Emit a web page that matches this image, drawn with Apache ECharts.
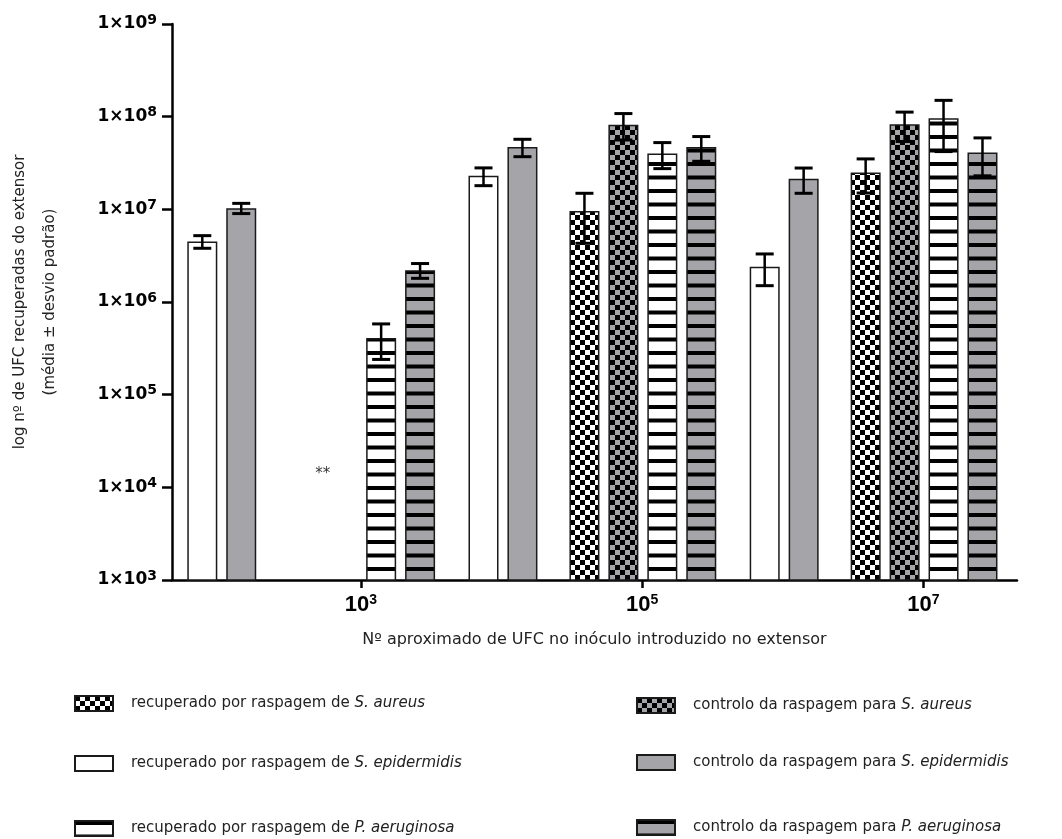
<!DOCTYPE html>
<html><head><meta charset="utf-8">
<script src="https://cdn.jsdelivr.net/npm/echarts@6/dist/echarts.min.js"></script>
<style>html,body{margin:0;padding:0;background:#fff}#c{width:1062px;height:839px}</style>
</head><body><div id="c"></div>
<script>
// ---- data ----
const inoculumExponents = [3, 5, 7];           // x tick labels 10^3, 10^5, 10^7
const yExponents = [3, 4, 5, 6, 7, 8, 9];      // y tick labels 1x10^n

const saRecMean  = [null, 9.6e6, 2.5e7];
const saRecSD    = [null, 5.3e6, 1.0e7];
const saCtrlMean = [null, 8.2e7, 8.3e7];
const saCtrlSD   = [null, 2.6e7, 2.9e7];
const seRecMean  = [4.5e6, 2.3e7, 2.4e6];
const seRecSD    = [0.7e6, 5.0e6, 0.9e6];
const seCtrlMean = [1.03e7, 4.7e7, 2.14e7];
const seCtrlSD   = [1.3e6, 1.0e7, 6.5e6];
const paRecMean  = [4.1e5, 4.0e7, 9.6e7];
const paRecSD    = [1.7e5, 1.25e7, 5.4e7];
const paCtrlMean = [2.2e6, 4.7e7, 4.1e7];
const paCtrlSD   = [0.4e6, 1.4e7, 1.8e7];

const noGrowthExponents = [3];      // S. aureus at 10^3: no growth
const noGrowthLabel = ['**'];
const noGrowthLevel = [1.4e4];

const nameSaRec  = 'recuperado por raspagem de S. aureus';
const nameSeRec  = 'recuperado por raspagem de S. epidermidis';
const namePaRec  = 'recuperado por raspagem de P. aeruginosa';
const nameSaCtrl = 'controlo da raspagem para S. aureus';
const nameSeCtrl = 'controlo da raspagem para S. epidermidis';
const namePaCtrl = 'controlo da raspagem para P. aeruginosa';

// ---- patterns ----
const GREY = '#a5a4a9';
function checker(c1, c2, s) {
  const cv = document.createElement('canvas'); cv.width = 2*s; cv.height = 2*s;
  const g = cv.getContext('2d');
  g.fillStyle = c1; g.fillRect(0,0,2*s,2*s);
  g.fillStyle = c2; g.fillRect(0,0,s,s); g.fillRect(s,s,s,s);
  return {image: cv, repeat: 'repeat'};
}
function stripes(bg) {
  const cv = document.createElement('canvas'); cv.width = 4; cv.height = 27;
  const g = cv.getContext('2d');
  g.fillStyle = bg; g.fillRect(0,0,4,27);
  g.fillStyle = '#000'; g.fillRect(0,0,4,4); g.fillRect(0,13.5,4,4);
  return {image: cv, repeat: 'repeat'};
}

// ---- layout helpers ----
const P = 0.277;      // bar pitch in decades
const QC = 0.005;     // quartet centre offset
const EC = -0.99;     // S. epidermidis pair centre offset
const offsets = {};
offsets[nameSeRec] = EC - P/2;     offsets[nameSeCtrl] = EC + P/2;
offsets[nameSaRec] = QC - 1.5*P;   offsets[nameSaCtrl] = QC - 0.5*P;
offsets[namePaRec] = QC + 0.5*P;   offsets[namePaCtrl] = QC + 1.5*P;

const defs = [
  [nameSaRec, saRecMean, saRecSD, checker('#fff', '#000', 5)],
  [nameSaCtrl, saCtrlMean, saCtrlSD, checker(GREY, '#000', 5)],
  [nameSeRec, seRecMean, seRecSD, '#ffffff'],
  [nameSeCtrl, seCtrlMean, seCtrlSD, GREY],
  [namePaRec, paRecMean, paRecSD, stripes('#fff')],
  [namePaCtrl, paCtrlMean, paCtrlSD, stripes(GREY)]
];

const series = [];
const errData = [];
defs.forEach(([name, mean, sd, color]) => {
  const data = [];
  inoculumExponents.forEach((e, i) => {
    if (mean[i] == null) return;
    const x = e + offsets[name];
    data.push([x, Math.log10(mean[i])]);
    errData.push([x, Math.log10(mean[i] - sd[i]), Math.log10(mean[i] + sd[i])]);
  });
  series.push({
    name, type: 'bar', data, barWidth: 30, barGap: '-100%', clip: true,
    itemStyle: {color, borderColor: '#1a1a1a', borderWidth: 1.5},
    emphasis: {disabled: true}, z: 2
  });
});

series.push({
  type: 'custom', name: 'err', data: errData, z: 5, silent: true,
  renderItem(params, api) {
    const x = api.value(0);
    const top = api.coord([x, api.value(2)]);
    const bot = api.coord([x, api.value(1)]);
    const cw = 9;
    return {type: 'group', children: [
      {type: 'line', shape: {x1: top[0], y1: top[1], x2: bot[0], y2: bot[1]}, style: {stroke: '#000', lineWidth: 2.5}},
      {type: 'line', shape: {x1: top[0]-cw, y1: top[1], x2: top[0]+cw, y2: top[1]}, style: {stroke: '#000', lineWidth: 3}},
      {type: 'line', shape: {x1: bot[0]-cw, y1: bot[1], x2: bot[0]+cw, y2: bot[1]}, style: {stroke: '#000', lineWidth: 3}}
    ]};
  }
});

series.push({
  type: 'scatter', name: 'nogrowth', symbolSize: 0, silent: true,
  data: noGrowthExponents.map((e, i) => ({value: [e + QC - P, Math.log10(noGrowthLevel[i])], label: {formatter: noGrowthLabel[i]}})),
  label: {show: true, position: 'inside', color: '#000', fontSize: 15, fontFamily: 'DejaVu Sans'}
});

function legendFmt(name) {
  const m = name.match(/^(.* )([SP]\. .*)$/);
  return '{n|' + m[1] + '}{i|' + m[2] + '}';
}
const legendText = {
  fontFamily: 'DejaVu Sans', fontSize: 15, color: '#222', padding: [0, 0, 0, 13],
  rich: {n: {fontFamily: 'DejaVu Sans', fontSize: 15, color: '#222'},
         i: {fontFamily: 'DejaVu Sans', fontSize: 15, fontStyle: 'italic', color: '#222'}}
};
const legendSlots = [
  [nameSaRec, 74, 695], [nameSeRec, 74, 755], [namePaRec, 74, 820],
  [nameSaCtrl, 636, 697], [nameSeCtrl, 636, 754], [namePaCtrl, 636, 819]
];
const legends = legendSlots.map(([n, l, t]) => ({
  orient: 'horizontal', left: l, top: t, padding: 0, itemWidth: 38, itemHeight: 15, icon: 'rect',
  data: [n], formatter: legendFmt, textStyle: legendText, selectedMode: false
}));

const option = {
  animation: false,
  backgroundColor: '#fff',
  grid: {left: 172, right: 45, top: 24, bottom: 259, containLabel: false, outerBoundsMode: 'none'},
  xAxis: {
    type: 'value', min: 1.656, max: 7.666,
    name: 'Nº aproximado de UFC no inóculo introduzido no extensor',
    nameLocation: 'middle', nameGap: 52,
    nameTextStyle: {fontFamily: 'DejaVu Sans', fontSize: 16, color: '#222'},
    axisLine: {lineStyle: {color: '#000', width: 2.5}},
    axisTick: {show: true, customValues: inoculumExponents, length: 8, lineStyle: {color: '#000', width: 2.5}},
    axisLabel: {
      customValues: inoculumExponents, margin: 13,
      formatter: v => '{b|10}{s|' + v + '}',
      rich: {b: {fontFamily: 'Liberation Sans', fontWeight: 'bold', fontSize: 22, color: '#000', lineHeight: 24},
             s: {fontFamily: 'Liberation Sans', fontWeight: 'bold', fontSize: 14, color: '#000', verticalAlign: 'top', lineHeight: 14}}
    },
    splitLine: {show: false}
  },
  yAxis: {
    type: 'value', min: yExponents[0], max: yExponents[yExponents.length-1], interval: 1,
    name: 'log nº de UFC recuperadas do extensor\n(média ± desvio padrão)',
    nameLocation: 'middle', nameGap: 107, nameRotate: 90,
    nameTextStyle: {fontFamily: 'DejaVu Sans', fontSize: 15, color: '#222', lineHeight: 30},
    axisLine: {show: true, lineStyle: {color: '#000', width: 2.5}},
    axisTick: {show: true, length: 10, lineStyle: {color: '#000', width: 2.5}},
    axisLabel: {
      margin: 15,
      formatter: v => '{b|1×10}{s|' + v + '}',
      rich: {b: {fontFamily: 'DejaVu Sans', fontWeight: 'bold', fontSize: 17, color: '#000', lineHeight: 22},
             s: {fontFamily: 'DejaVu Sans', fontWeight: 'bold', fontSize: 14, color: '#000', verticalAlign: 'top', lineHeight: 14}}
    },
    splitLine: {show: false}
  },
  legend: legends,
  series
};
const chart = echarts.init(document.getElementById('c'), null, {renderer: 'canvas'});
chart.setOption(option);
</script></body></html>
